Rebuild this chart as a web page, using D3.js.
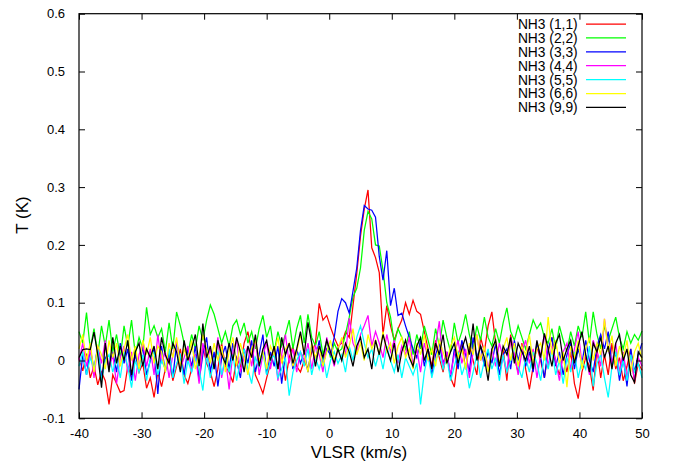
<!DOCTYPE html>
<html><head><meta charset="utf-8">
<script src="https://cdn.jsdelivr.net/npm/d3@7"></script>
<style>body{margin:0;background:#fff}svg{display:block;font-family:"Liberation Sans",Arial,sans-serif}</style>
</head><body>
<svg id="c" width="675" height="466"></svg>
<script>
// Velocity channels (km/s): start and width
const vStart = -40, vStep = 0.6, nChan = 151;
const xTicks = [-40,-30,-20,-10,0,10,20,30,40,50];
const yTicks = [-0.1,0,0.1,0.2,0.3,0.4,0.5,0.6];
const seriesNames = ["NH3 (1,1)","NH3 (2,2)","NH3 (3,3)","NH3 (4,4)","NH3 (5,5)","NH3 (6,6)","NH3 (9,9)"];
const seriesColors = ["#ff0000","#00ff00","#0000ff","#ff00ff","#00ffff","#ffff00","#000000"];
// Brightness temperatures in mK, one value per channel
const nh3_11 = [5,-18,12,-30,-10,-42,-20,-35,-76,-25,-40,-55,-52,-10,-30,15,-20,-5,-48,-30,-64,-20,-45,-15,5,-35,-10,20,-25,-40,-15,10,-30,25,-5,-20,-45,-15,30,-10,-20,-38,5,-10,30,50,15,-25,-40,-57,-30,-5,20,-15,10,-35,5,25,-10,-20,0,-15,15,30,99,70,78,58,40,25,30,50,40,95,150,215,262,295,195,178,152,45,95,60,35,55,70,100,80,104,85,80,50,20,-10,35,5,-20,15,-30,-46,10,30,-15,25,0,-25,40,15,60,84,30,-10,20,-35,45,5,-20,30,-15,-50,-10,25,0,-30,15,40,-5,-25,10,-20,15,-40,-66,-20,5,-10,-52,20,-30,10,-25,30,-15,5,-35,-10,20,-40,-5,-17];
const nh3_22 = [50,30,83,20,55,10,60,25,70,15,45,5,60,25,70,10,40,20,92,45,60,40,55,15,65,20,84,60,30,10,45,20,60,35,70,96,80,55,30,50,25,60,70,45,65,30,50,20,55,78,40,60,15,50,25,45,70,20,55,78,30,80,40,25,50,10,35,5,30,15,20,45,75,110,125,160,225,258,245,200,198,156,100,75,30,55,40,20,50,10,45,20,60,35,10,55,25,70,40,15,65,30,50,80,45,20,60,35,75,40,25,55,30,65,91,50,35,60,40,20,45,70,55,65,40,30,55,20,60,35,15,50,25,60,40,84,30,84,45,20,60,35,55,75,40,20,50,30,45,35,51];
const nh3_33 = [-50,10,-25,20,-15,25,-30,5,-10,15,-20,30,-5,20,-35,10,-15,25,-25,0,20,-58,25,-20,15,-30,30,5,-25,20,-10,25,-35,10,40,-20,15,-45,5,25,-15,30,0,-30,20,-5,35,-20,10,45,-25,15,-10,25,-40,10,30,-15,20,-5,15,-20,25,0,35,-10,20,10,40,85,107,100,82,120,160,225,268,262,260,248,180,139,190,95,125,78,82,60,40,20,5,35,-10,20,-25,10,30,-5,15,-30,20,-15,35,10,-20,40,5,25,-10,15,-5,30,-25,10,20,-15,35,0,25,-10,15,-20,30,5,-30,20,40,-10,15,-25,10,30,-15,20,-5,35,0,-20,25,45,20,50,-10,15,-35,5,-45,20,-20,10,30];
const nh3_44 = [0,30,-10,20,-30,25,-5,35,-15,10,-40,5,25,-20,15,-35,10,30,-10,20,-25,45,-5,15,-30,10,35,-15,5,25,-20,10,-40,30,0,20,-15,40,-30,5,-50,15,35,-20,5,25,-10,40,-25,10,30,-15,20,-35,10,45,-5,20,-20,15,0,30,-15,25,10,-20,40,15,-10,20,35,10,73,30,15,45,60,78,25,50,30,5,45,15,35,-5,25,10,40,-10,20,-20,30,5,-15,25,68,-10,15,-25,10,35,-5,20,-30,15,45,0,25,-15,20,-10,30,5,-20,40,10,-25,15,35,-5,20,-30,10,45,-10,25,0,-35,15,30,-15,20,50,-5,10,-25,35,15,-10,72,20,-5,30,-20,15,-30,10,-35,5,-10];
const nh3_55 = [-10,15,-25,5,-15,20,-35,0,10,-20,5,-30,15,-10,-47,0,-20,10,-35,5,15,-25,0,-15,20,-30,-5,10,-40,0,-20,5,-15,-52,10,-30,0,15,-25,5,-20,10,-35,0,20,-15,-40,5,-10,15,-25,0,10,-30,-15,5,-61,-20,0,15,-10,20,-25,5,-15,10,-30,0,15,-5,10,-20,25,0,40,60,30,5,20,-10,15,-15,25,0,-20,10,-30,5,-10,-25,-5,-76,-20,10,-30,0,15,-15,5,-35,-10,15,-25,-5,-48,-20,10,-30,0,20,-15,5,-35,10,-20,0,25,-10,-30,5,-20,15,-5,-35,10,-15,20,-25,0,-40,5,-20,15,-30,0,-15,25,-45,-5,10,-30,-64,-10,15,-25,0,-35,10,-20,-5,-30];
const nh3_66 = [20,45,0,30,-20,25,10,-15,35,5,30,-10,20,45,0,25,-15,35,10,40,-5,25,15,-20,30,5,40,-10,20,0,35,-15,10,45,20,-5,30,0,25,-20,15,40,-10,30,5,-25,20,35,0,15,-15,25,10,40,-5,20,30,-10,15,45,10,-20,30,5,25,-10,15,35,0,20,40,5,25,55,10,30,0,45,20,35,10,50,15,30,-5,25,40,5,20,-15,30,10,45,0,20,-10,35,15,-5,25,40,5,20,-15,30,10,45,0,25,-20,15,35,-5,20,40,0,30,-10,25,10,45,-5,20,30,0,75,10,35,-5,15,-46,25,5,35,-15,20,40,0,30,10,72,15,43,-10,25,5,35,-20,15,30,0];
const nh3_99 = [5,19,20,19,49,10,-47,30,-20,40,-5,25,0,35,-25,15,30,-10,20,5,25,-15,40,10,-5,30,15,-20,35,0,20,45,-10,64,5,25,-15,35,10,-5,30,0,40,15,-20,25,5,45,-10,20,35,0,25,-15,40,10,30,-5,20,50,10,66,30,-10,25,5,35,15,-5,20,0,30,15,-10,25,40,5,20,-15,35,10,45,20,0,30,-20,15,35,5,-10,25,40,0,20,-15,30,10,45,-5,15,30,-5,20,40,10,64,0,25,5,-35,20,35,-10,25,10,40,-5,30,15,0,25,-15,35,5,47,20,-10,30,45,0,20,35,-5,25,50,10,-20,30,15,40,5,25,-15,30,45,0,20,-25,-38,15,5];

const seriesData = [nh3_11,nh3_22,nh3_33,nh3_44,nh3_55,nh3_66,nh3_99];
const velocity = d3.range(nChan).map(i => vStart + vStep * i);

const svg = d3.select("#c");
const L = 79, R = 642, T = 13.7, B = 418.3;
const x = d3.scaleLinear().domain([-40,50]).range([L,R]);
const y = d3.scaleLinear().domain([-0.1,0.6]).range([B,T]);

// lines
const line = d3.line().x((d,i) => x(velocity[i])).y(d => y(d/1000));
const g = svg.append("g");
seriesData.forEach((s,k) => {
  g.append("path").attr("d", line(s)).attr("fill","none")
   .attr("stroke", seriesColors[k]).attr("stroke-width",1.25).attr("stroke-linejoin","miter");
});

// frame
svg.append("rect").attr("x",L).attr("y",T).attr("width",R-L).attr("height",B-T)
  .attr("fill","none").attr("stroke","#000").attr("stroke-width",1.2);

// axes with inward ticks, mirrored
const tk = 6;
const fs = 13;
svg.append("g").attr("transform",`translate(0,${B})`)
  .call(d3.axisBottom(x).tickValues(xTicks).tickSizeInner(-tk).tickSizeOuter(0).tickPadding(10).tickFormat(d3.format("d")))
  .call(a => a.select(".domain").remove());
svg.append("g").attr("transform",`translate(0,${T})`)
  .call(d3.axisTop(x).tickValues(xTicks).tickSizeInner(-tk).tickSizeOuter(0).tickFormat(""))
  .call(a => a.select(".domain").remove());
svg.append("g").attr("transform",`translate(${L},0)`)
  .call(d3.axisLeft(y).tickValues(yTicks).tickSizeInner(-tk).tickSizeOuter(0).tickPadding(14).tickFormat(d => d3.format(".1f")(d).replace("0.0","0").replace("−","-")))
  .call(a => a.select(".domain").remove());
svg.append("g").attr("transform",`translate(${R},0)`)
  .call(d3.axisRight(y).tickValues(yTicks).tickSizeInner(-tk).tickSizeOuter(0).tickFormat(""))
  .call(a => a.select(".domain").remove());
svg.selectAll(".tick line").attr("stroke","#000").attr("stroke-width",1);
svg.selectAll(".tick text").attr("font-size",fs).attr("fill","#000")
  .attr("font-family","'Liberation Sans',Arial,sans-serif");
svg.selectAll(".tick text").text(function(){ return this.textContent.replace("\u2212","-"); });

// axis labels
svg.append("text").attr("x",359).attr("y",458).attr("text-anchor","middle")
  .attr("font-size",17).text("VLSR (km/s)");
svg.append("text").attr("transform","translate(28,215) rotate(-90)").attr("text-anchor","middle")
  .attr("font-size",17).text("T (K)");

// legend
const lg = svg.append("g");
seriesNames.forEach((n,k) => {
  const cy = 24 + 13.9*k;
  lg.append("text").attr("x",577.7).attr("y",cy).attr("dy","0.36em").attr("text-anchor","end")
    .attr("font-size",13.8).text(n);
  lg.append("line").attr("x1",586).attr("x2",626).attr("y1",cy).attr("y2",cy)
    .attr("stroke",seriesColors[k]).attr("stroke-width",1.25);
});
</script>
</body></html>
